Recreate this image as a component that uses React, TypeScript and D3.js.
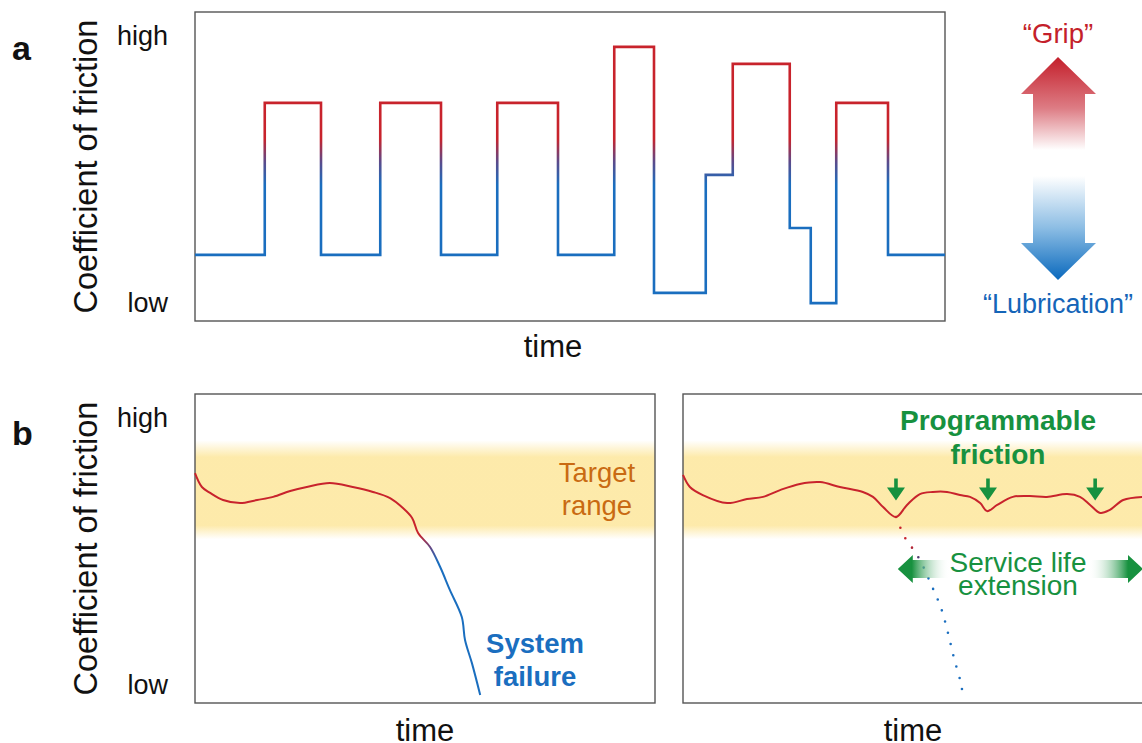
import React from 'react';
import * as d3 from 'd3';

// panel a: stepped friction profile (time 0-100, friction 0=low .. 1=high)
const stepTimes = [0, 9.3, 16.8, 24.7, 32.8, 40.3, 48.4, 55.9, 61.2, 68.1, 71.7, 79.3, 82.1, 85.5, 92.4, 100];
const stepValues = [0.214, 0.706, 0.214, 0.706, 0.214, 0.706, 0.214, 0.887, 0.091, 0.473, 0.832, 0.301, 0.058, 0.706, 0.214, 0.214];

// panel b left: uncontrolled decay -> failure
const failTimes = [0, 1.5, 3.3, 6.1, 9.8, 13.5, 17.0, 20.7, 24.3, 29.3, 34.3, 38.7, 42.4, 45.2, 47.2, 48.5, 51.1, 53.3, 55.4, 58.0, 58.7, 60.2, 62.0];
const failValues = [0.744, 0.699, 0.680, 0.657, 0.647, 0.657, 0.667, 0.686, 0.699, 0.712, 0.699, 0.683, 0.663, 0.631, 0.599, 0.550, 0.505, 0.440, 0.366, 0.278, 0.204, 0.129, 0.026];

// panel b right: programmed recovery
const progTimes = [0, 1.5, 4.3, 9.6, 13.9, 17.4, 21.1, 25.4, 29.8, 34.1, 39.1, 41.3, 43.5, 46.3, 48.7, 51.5, 54.3, 57.4, 60.2, 62.4, 64.6, 66.1, 68.3, 71.7, 75.4, 79.1, 83.5, 86.3, 88.5, 90.7, 92.8, 95.7, 100];
const progValues = [0.738, 0.699, 0.673, 0.647, 0.660, 0.667, 0.689, 0.709, 0.715, 0.699, 0.683, 0.667, 0.634, 0.602, 0.641, 0.676, 0.683, 0.683, 0.673, 0.667, 0.647, 0.621, 0.641, 0.667, 0.670, 0.667, 0.676, 0.667, 0.641, 0.615, 0.625, 0.657, 0.667];

// dotted projection of the failure without intervention
const projTimes = [46.3, 48.3, 50.0, 51.5, 53.9, 56.1, 57.6, 58.9, 60.4, 60.9];
const projValues = [0.602, 0.534, 0.498, 0.463, 0.385, 0.307, 0.227, 0.146, 0.065, 0.019];

const arrowTimes = [46.3, 66.3, 89.6];
const targetRange = [0.53, 0.85];
const levelTicks = [0.055, 0.918];
const levelLabels = ['low', 'high'];

const RED = '#c8232c';
const BLUE = '#1a6ebf';
const GREEN = '#17913f';
const ORANGE = '#c96a12';
const FRAME = '#555';
const FONT = '"Liberation Sans", Arial, Helvetica, sans-serif';

const App: React.FC = () => {
  const xA = d3.scaleLinear().domain([0, 100]).range([195, 945]);
  const yA = d3.scaleLinear().domain([0, 1]).range([321, 12]);
  const xL = d3.scaleLinear().domain([0, 100]).range([195, 655]);
  const xR = d3.scaleLinear().domain([0, 100]).range([683, 1143]);
  const yB = d3.scaleLinear().domain([0, 1]).range([703, 394]);

  const stepPath = d3.line<number>()
    .x((_, i) => xA(stepTimes[i]))
    .y(d => yA(d))
    .curve(d3.curveStepAfter)(stepValues) || '';

  const smooth = (xs: d3.ScaleLinear<number, number>, times: number[]) =>
    d3.line<number>().x((_, i) => xs(times[i])).y(d => yB(d)).curve(d3.curveCatmullRom.alpha(0.5));

  const failPath = smooth(xL, failTimes)(failValues) || '';
  const progPath = smooth(xR, progTimes)(progValues) || '';
  const projPath = d3.line<number>().x((_, i) => xR(projTimes[i])).y(d => yB(d)).curve(d3.curveCatmullRom)(projValues) || '';

  const bandTop = yB(targetRange[1]);
  const bandBot = yB(targetRange[0]);

  const tipY = yB(0.655);
  const arrowY = yB(0.434);
  const leftTip = xR(46.7);
  const rightTip = xR(100);

  const tickText = (y: number, label: string, key: string) => (
    <text key={key} x={168} y={y + 8} textAnchor="end" fontSize={27} fill="#111">{label}</text>
  );

  return (
    <div style={{ position: 'absolute', left: 0, top: 0 }}>
      <svg width={1142} height={743} viewBox="0 0 1142 743" style={{ display: 'block', fontFamily: FONT }}>
        <defs>
          <linearGradient id="stepGrad" gradientUnits="userSpaceOnUse" x1={0} x2={0} y1={yA(0.59)} y2={yA(0.44)}>
            <stop offset="0" stopColor={RED} />
            <stop offset="0.5" stopColor="#5b4a8a" />
            <stop offset="1" stopColor={BLUE} />
          </linearGradient>
          <linearGradient id="failGrad" gradientUnits="userSpaceOnUse" x1={0} x2={0} y1={yB(0.545)} y2={yB(0.455)}>
            <stop offset="0" stopColor={RED} />
            <stop offset="0.5" stopColor="#5b4a8a" />
            <stop offset="1" stopColor={BLUE} />
          </linearGradient>
          <linearGradient id="projGrad" gradientUnits="userSpaceOnUse" x1={0} x2={0} y1={yB(0.51)} y2={yB(0.43)}>
            <stop offset="0" stopColor={RED} />
            <stop offset="0.5" stopColor="#4a3d70" />
            <stop offset="1" stopColor={BLUE} />
          </linearGradient>
          <linearGradient id="bandGrad" x1={0} x2={0} y1={0} y2={1}>
            <stop offset="0" stopColor="#fde9a6" stopOpacity={0} />
            <stop offset="0.17" stopColor="#fde9a6" stopOpacity={0.95} />
            <stop offset="0.86" stopColor="#fde9a6" stopOpacity={0.95} />
            <stop offset="1" stopColor="#fde9a6" stopOpacity={0} />
          </linearGradient>
          <linearGradient id="gripGrad" gradientUnits="userSpaceOnUse" x1={0} x2={0} y1={57} y2={150}>
            <stop offset="0" stopColor="#c41f2b" />
            <stop offset="0.55" stopColor="#dd7c84" />
            <stop offset="1" stopColor="#ffffff" />
          </linearGradient>
          <linearGradient id="lubGrad" gradientUnits="userSpaceOnUse" x1={0} x2={0} y1={176} y2={280}>
            <stop offset="0" stopColor="#ffffff" />
            <stop offset="0.5" stopColor="#8cbde4" />
            <stop offset="1" stopColor="#0a69bd" />
          </linearGradient>
          <linearGradient id="lifeL" gradientUnits="userSpaceOnUse" x1={leftTip + 14} x2={leftTip + 52} y1={0} y2={0}>
            <stop offset="0" stopColor={GREEN} />
            <stop offset="1" stopColor="#ffffff" stopOpacity={0} />
          </linearGradient>
          <linearGradient id="lifeR" gradientUnits="userSpaceOnUse" x1={rightTip - 55} x2={rightTip - 15} y1={0} y2={0}>
            <stop offset="0" stopColor="#ffffff" stopOpacity={0} />
            <stop offset="1" stopColor={GREEN} />
          </linearGradient>
        </defs>

        {/* panel labels */}
        <text x={12} y={60} fontSize={34} fontWeight="bold" fill="#111">a</text>
        <text x={12} y={445} fontSize={34} fontWeight="bold" fill="#111">b</text>

        {/* ---------- panel a ---------- */}
        <text transform={`translate(97,${(yA(0) + yA(1)) / 2}) rotate(-90)`} textAnchor="middle" fontSize={32.5} fill="#111">Coefficient of friction</text>
        {levelTicks.map((v, i) => tickText(yA(v), levelLabels[i], 'a' + i))}
        <rect x={xA(0)} y={yA(1)} width={xA(100) - xA(0)} height={yA(0) - yA(1)} fill="none" stroke={FRAME} strokeWidth={1.4} />
        <path d={stepPath} fill="none" stroke="url(#stepGrad)" strokeWidth={2.6} />
        <text x={553} y={357} textAnchor="middle" fontSize={31} fill="#111">time</text>

        {/* grip / lubrication arrow */}
        <text x={1058} y={43} textAnchor="middle" fontSize={27.5} fill="#c41f2b">“Grip”</text>
        <path d="M1058,57 L1096,94 L1085,94 L1085,150 L1033,150 L1033,94 L1021,94 Z" fill="url(#gripGrad)" />
        <path d="M1033,176 L1085,176 L1085,243 L1096,243 L1058,280 L1021,243 L1033,243 Z" fill="url(#lubGrad)" />
        <text x={1058} y={313} textAnchor="middle" fontSize={27} fill="#1565b8">“Lubrication”</text>

        {/* ---------- panel b ---------- */}
        <text transform={`translate(97,${(yB(0) + yB(1)) / 2}) rotate(-90)`} textAnchor="middle" fontSize={32.5} fill="#111">Coefficient of friction</text>
        {levelTicks.map((v, i) => tickText(yB(v), levelLabels[i], 'b' + i))}

        {/* left */}
        <rect x={xL(0)} y={bandTop} width={xL(100) - xL(0)} height={bandBot - bandTop} fill="url(#bandGrad)" />
        <rect x={xL(0)} y={yB(1)} width={xL(100) - xL(0)} height={yB(0) - yB(1)} fill="none" stroke={FRAME} strokeWidth={1.4} />
        <path d={failPath} fill="none" stroke="url(#failGrad)" strokeWidth={2} />
        <text x={597} y={482} textAnchor="middle" fontSize={27.5} fill={ORANGE}>Target</text>
        <text x={597} y={515} textAnchor="middle" fontSize={27.5} fill={ORANGE}>range</text>
        <text x={535} y={653} textAnchor="middle" fontSize={27.5} fontWeight="bold" fill={BLUE}>System</text>
        <text x={535} y={686} textAnchor="middle" fontSize={27.5} fontWeight="bold" fill={BLUE}>failure</text>
        <text x={xL(50)} y={741} textAnchor="middle" fontSize={31} fill="#111">time</text>

        {/* right */}
        <rect x={xR(0)} y={bandTop} width={xR(100) - xR(0)} height={bandBot - bandTop} fill="url(#bandGrad)" />
        <rect x={xR(0)} y={yB(1)} width={xR(100) - xR(0)} height={yB(0) - yB(1)} fill="none" stroke={FRAME} strokeWidth={1.4} />
        <path d={projPath} fill="none" stroke="url(#projGrad)" strokeWidth={2.6} strokeLinecap="round" strokeDasharray="0 11.6" />
        <path d={progPath} fill="none" stroke={RED} strokeWidth={2} />
        {arrowTimes.map((t, i) => {
          const x = xR(t);
          return (
            <path key={i} fill={GREEN}
              d={`M${x - 1.8},${tipY - 22} L${x + 1.8},${tipY - 22} L${x + 1.8},${tipY - 13} L${x + 9},${tipY - 13} L${x},${tipY} L${x - 9},${tipY - 13} L${x - 1.8},${tipY - 13} Z`} />
          );
        })}
        <text x={998} y={430} textAnchor="middle" fontSize={28} fontWeight="bold" fill={GREEN}>Programmable</text>
        <text x={998} y={464} textAnchor="middle" fontSize={28} fontWeight="bold" fill={GREEN}>friction</text>

        <path fill="url(#lifeL)"
          d={`M${leftTip},${arrowY} L${leftTip + 15},${arrowY - 14} L${leftTip + 15},${arrowY - 9} L${leftTip + 52},${arrowY - 9} L${leftTip + 52},${arrowY + 9} L${leftTip + 15},${arrowY + 9} L${leftTip + 15},${arrowY + 14} Z`} />
        <path fill="url(#lifeR)"
          d={`M${rightTip},${arrowY} L${rightTip - 15},${arrowY - 14} L${rightTip - 15},${arrowY - 9} L${rightTip - 55},${arrowY - 9} L${rightTip - 55},${arrowY + 9} L${rightTip - 15},${arrowY + 9} L${rightTip - 15},${arrowY + 14} Z`} />
        <text x={1018} y={572} textAnchor="middle" fontSize={28} fill={GREEN}>Service life</text>
        <text x={1018} y={595} textAnchor="middle" fontSize={28} fill={GREEN}>extension</text>
        <text x={xR(50)} y={741} textAnchor="middle" fontSize={31} fill="#111">time</text>
      </svg>
    </div>
  );
};

export default App;
